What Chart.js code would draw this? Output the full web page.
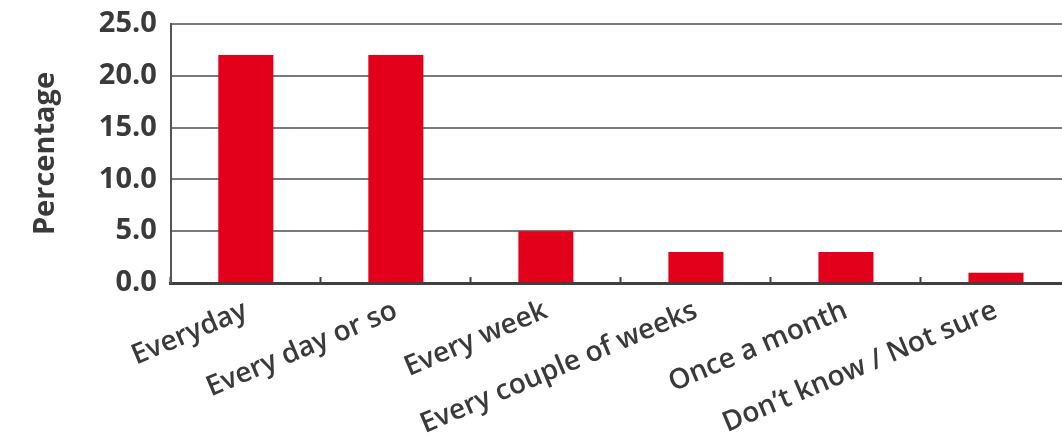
<!DOCTYPE html>
<html>
<head>
<meta charset="utf-8">
<script src="https://cdn.jsdelivr.net/npm/chart.js@4/dist/chart.umd.min.js"></script>
<style>
  html, body { margin: 0; padding: 0; background: #fff; overflow: hidden; }
  #wrap { position: relative; width: 1071px; height: 442px; }
</style>
</head>
<body>
<div id="wrap"><canvas id="myChart"></canvas></div>
<script>
const categories = [
    'Everyday',
    'Every day or so',
    'Every week',
    'Every couple of weeks',
    'Once a month',
    "Don\u2019t know / Not sure"]
const percentages = [22.0, 22.0, 5.0, 3.0, 3.0, 1.0]
const yTicks = [0, 5, 10, 15, 20, 25]

const barColour = '#e2001a'
const textColour = '#3a3a3a'

function showChartJs(){
    const ctx = document.getElementById('myChart').getContext('2d');

    const data = {
        labels: categories,
        datasets: [{
            label: 'Percentage',
            data: percentages,
            backgroundColor: barColour,
            borderWidth: 0,
            barPercentage: 0.367,
            categoryPercentage: 1.0,
        }]
    };

    new Chart(ctx, {
        type: 'bar',
        data: data,
        options: {
            responsive: true,
            maintainAspectRatio: false,
            animation: false,
            layout: {
                padding: { top: 0, left: 28, right: 0, bottom: 0 }
            },
            plugins: {
                legend: { display: false },
                tooltip: { enabled: false },
            },
            scales: {
                x: {
                    // x axis band below the plot, as in the original
                    afterFit: (scale) => { scale.height = 159; },
                    grid: {
                        display: true,
                        offset: true,
                        drawOnChartArea: false,
                        drawTicks: true,
                        tickLength: -6,
                        tickWidth: 2,
                        tickColor: '#404040',
                    },
                    border: { display: true, color: '#404040', width: 3 },
                    ticks: {
                        color: textColour,
                        maxRotation: 23,
                        minRotation: 23,
                        padding: 17,
                        font: { family: '"Open Sans", sans-serif', size: 28, weight: 600 },
                    },
                },
                y: {
                    min: 0,
                    max: 25,
                    afterBuildTicks: (scale) => {
                        scale.ticks = yTicks.map(v => ({ value: v }));
                    },
                    afterFit: (scale) => { scale.paddingTop = 24; },
                    grid: {
                        color: '#7a7a7a',
                        lineWidth: 2,
                        drawTicks: false,
                    },
                    border: { display: true, color: '#555', width: 2 },
                    ticks: {
                        color: textColour,
                        padding: 14,
                        callback: (v) => Number(v).toFixed(1),
                        font: { family: '"Open Sans", sans-serif', size: 29, weight: 'bold' },
                    },
                    title: {
                        display: true,
                        text: 'Percentage',
                        color: textColour,
                        padding: { top: 0, bottom: 22 },
                        font: { family: '"Open Sans", sans-serif', size: 29, weight: 'bold' },
                    },
                },
            },
        },
    });
}

showChartJs()
</script>
</body>
</html>
